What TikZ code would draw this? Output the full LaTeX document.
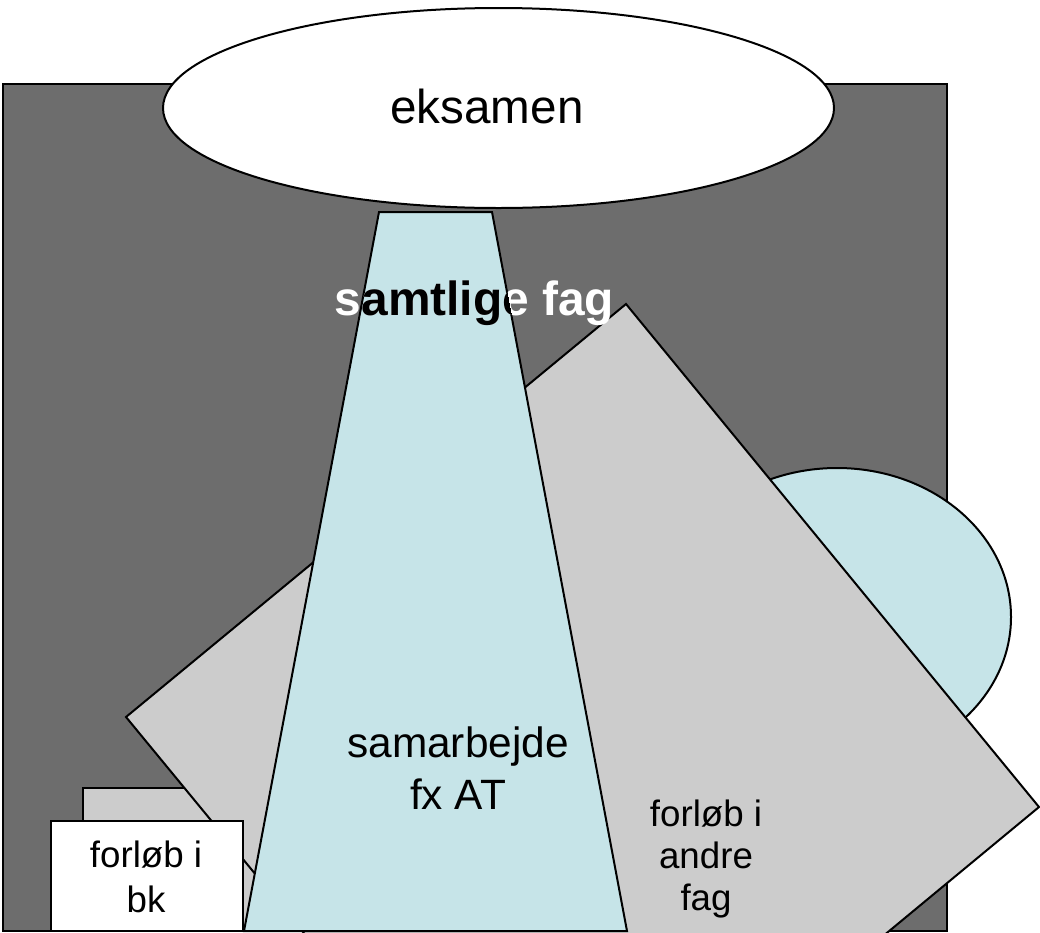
\documentclass[tikz,border=0pt]{standalone}
\usepackage{fontspec}
\setmainfont{Liberation Sans}
\definecolor{darkbg}{RGB}{109,109,109}
\definecolor{lightgr}{RGB}{204,204,204}
\definecolor{lightbl}{RGB}{198,228,232}
\begin{document}
\begin{tikzpicture}[x=1pt,y=-1pt,
  outl/.style={draw=black,line width=2pt,line join=miter},
  txt/.style={inner sep=0pt,anchor=base,align=center},
  bigtxt/.style={txt,font=\fontsize{47.6}{56}\selectfont},
  midtxt/.style={txt,font=\fontsize{42.4}{52}\selectfont},
  smalltxt/.style={txt,font=\fontsize{36.7}{42}\selectfont},
  bktxt/.style={txt,font=\fontsize{36.7}{45}\selectfont},
  boldtxt/.style={txt,font=\fontsize{47.9}{56}\selectfont\bfseries}]
\useasboundingbox (0,0) rectangle (1040,932);
\clip (0,0) rectangle (1040,932);
% background panel
\path[outl,fill=darkbg] (3,84) rectangle (947,931);
% exam ellipse
\path[outl,fill=white] (498.5,108) ellipse [x radius=335.5, y radius=100];
% light blue ellipse on the right
\path[outl,fill=lightbl] (837,617) ellipse [x radius=174, y radius=149];
% small gray rectangle
\path[outl,fill=lightgr] (83,788) rectangle (260,931);
% big rotated square
\path[outl,fill=lightgr] (626,304) -- (1039,807) -- (540,1220) -- (126,717) -- cycle;
% trapezoid
\coordinate (tA) at (379,212);
\coordinate (tB) at (492,212);
\coordinate (tC) at (627,931);
\coordinate (tD) at (244,931);
\path[outl,fill=lightbl] (tA) -- (tB) -- (tC) -- (tD) -- cycle;
% white box
\path[outl,fill=white] (51,821) rectangle (243,931);
% texts
\node[bigtxt] (eks) at (487,123) {eksamen};
\node[boldtxt,text=white] (samt) at (474.5,315) {samtlige fag};
\begin{scope}
  \clip (tA) -- (tB) -- (tC) -- (tD) -- cycle;
  \node[boldtxt,text=black] (samtb) at (474.5,315) {samtlige fag};
\end{scope}
\node[midtxt] (sam) at (458,809) {samarbejde\\fx AT};
\node[smalltxt] (andre) at (706,910) {forløb i\\andre\\fag};
\node[bktxt] (bk) at (146,912) {forløb i\\bk};
\end{tikzpicture}
\end{document}
